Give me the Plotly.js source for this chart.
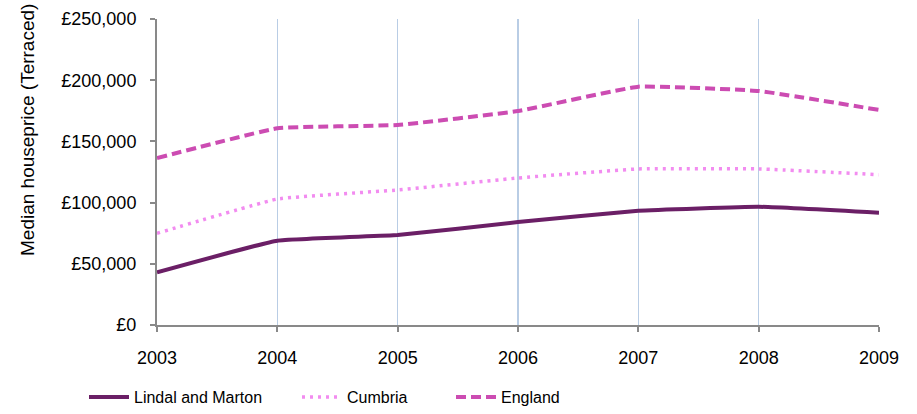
<!DOCTYPE html>
<html><head><meta charset="utf-8">
<script src="https://cdn.plot.ly/plotly-3.0.1.min.js"></script>
<style>body{margin:0;background:#fff}#c{width:917px;height:414px}</style>
</head><body><div id="c"></div>
<script>
const years = [2003, 2004, 2005, 2006, 2007, 2008, 2009];
const lindal = [43000, 68900, 73500, 84100, 93400, 96600, 91700];
const cumbria = [74900, 102900, 110300, 120100, 127500, 127500, 122800];
const england = [136400, 160700, 163400, 174800, 194700, 191200, 175700];
const yTicks = [0, 50000, 100000, 150000, 200000, 250000];
const yTickText = ['£0', '£50,000', '£100,000', '£150,000', '£200,000', '£250,000'];

const legFont = {family: 'Liberation Sans Narrow, Arial Narrow, Liberation Sans, Arial', size: 16, color: '#000'};
const traces = [
  {x: years, y: lindal, name: 'Lindal and Marton', mode: 'lines', legend: 'legend',
   line: {color: '#6B1F66', width: 4, shape: 'spline', smoothing: 0.3}},
  {x: years, y: cumbria, name: 'Cumbria', mode: 'lines', legend: 'legend2',
   line: {color: '#F28CF0', width: 3.5, dash: '3px,5px', shape: 'spline', smoothing: 0.3}},
  {x: years, y: england, name: 'England', mode: 'lines', legend: 'legend3',
   line: {color: '#CC4CB2', width: 4, dash: '10px,5px', shape: 'spline', smoothing: 0.3}}
];
function leg(x) {
  return {xref: 'container', yref: 'container', x: x, y: 1 - 397/414, xanchor: 'left', yanchor: 'middle',
    orientation: 'h', font: legFont, itemwidth: 40, bgcolor: 'rgba(0,0,0,0)'};
}
const layout = {
  width: 917, height: 414,
  margin: {l: 157, r: 38, t: 19, b: 89},
  paper_bgcolor: '#fff', plot_bgcolor: '#fff',
  font: {family: 'Liberation Sans, Arial', size: 18, color: '#000'},
  showlegend: true,
  legend: leg(84/917), legend2: leg(297/917), legend3: leg(451/917),
  xaxis: {range: [2003, 2009], tickvals: years, ticktext: years.map(String),
    showgrid: true, gridcolor: '#B9CDE5', gridwidth: 1.5,
    showline: true, linecolor: '#898989', linewidth: 2,
    ticks: 'outside', ticklen: 5, tickcolor: '#898989', tickwidth: 2,
    ticklabelstandoff: 10, zeroline: false, fixedrange: true},
  yaxis: {range: [0, 250000], tickvals: yTicks, ticktext: yTickText,
    showgrid: false, showline: true, linecolor: '#898989', linewidth: 2,
    ticks: 'outside', ticklen: 5, tickcolor: '#898989', tickwidth: 2,
    ticklabelstandoff: 10, zeroline: false, fixedrange: true},
  annotations: [{text: 'Median houseprice (Terraced)', textangle: -90,
    xref: 'paper', yref: 'paper', x: -130/722, y: 1 - (130-19)/306,
    xanchor: 'center', yanchor: 'middle', showarrow: false,
    font: {family: 'Liberation Sans, Arial', size: 19, color: '#000'}}]
};
Plotly.newPlot('c', traces, layout, {displayModeBar: false, staticPlot: true});
</script></body></html>
